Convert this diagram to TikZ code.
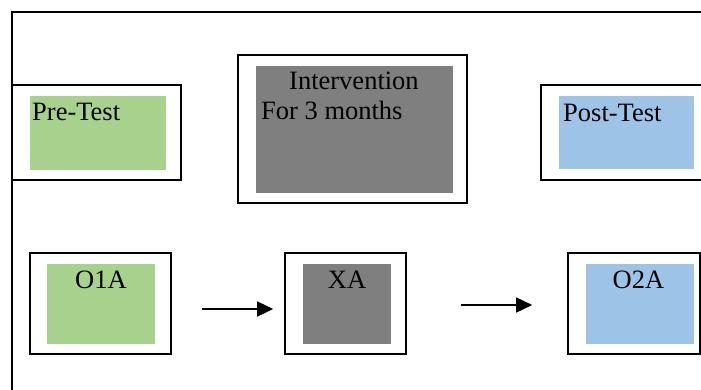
\documentclass[tikz,border=0pt]{standalone}
\usepackage{fontspec}
\setmainfont{Liberation Serif}
\usetikzlibrary{arrows.meta}
\definecolor{pgreen}{HTML}{A9D18E}
\definecolor{pgray}{HTML}{7F7F7F}
\definecolor{pblue}{HTML}{9DC3E6}
\begin{document}
\begin{tikzpicture}[x=1pt,y=-1pt,
  outerbox/.style={draw=black,line width=1.6pt,fill=white,inner sep=0pt},
  innerbox/.style={draw=none,inner sep=0pt},
  lbl/.style={inner sep=0pt,font=\fontsize{26.5}{30}\selectfont,text=black},
  arr/.style={line width=1.5pt,-{Triangle[length=16pt,width=15pt]}}]
\useasboundingbox (0,0) rectangle (701,389);
\clip (0,0) rectangle (701,389);
\fill[white] (0,0) rectangle (701,389);
% frame
\draw[line width=1.6pt] (12,400) -- (12,12) -- (720,12);
% top row
\node[outerbox,minimum width=169pt,minimum height=95pt] (preo) at (96.5,132.5) {};
\node[innerbox,fill=pgreen,minimum width=136pt,minimum height=74pt] (prei) at (98,133) {};
\node[lbl,anchor=base west] (pret) at (32,120) {Pre-Test};

\node[outerbox,minimum width=229pt,minimum height=148pt] (into) at (352.5,129) {};
\node[innerbox,fill=pgray,minimum width=197pt,minimum height=127pt] (inti) at (354.5,129.5) {};
\node[lbl,anchor=base west] (intt1) at (289,89) {Intervention};
\node[lbl,anchor=base west] (intt2) at (261,119) {For 3 months};

\node[outerbox,minimum width=169pt,minimum height=95pt] (posto) at (625.5,132.5) {};
\node[innerbox,fill=pblue,minimum width=135pt,minimum height=73pt] (posti) at (626.5,132.5) {};
\node[lbl,anchor=base west] (postt) at (563,121) {Post-Test};
% bottom row
\node[outerbox,minimum width=141pt,minimum height=101pt] (o1ao) at (100.5,303.5) {};
\node[innerbox,fill=pgreen,minimum width=108pt,minimum height=80pt] (o1ai) at (101,304) {};
\node[lbl,anchor=base] (o1at) at (101,288) {O1A};

\node[outerbox,minimum width=121pt,minimum height=101pt] (xao) at (345.5,303.5) {};
\node[innerbox,fill=pgray,minimum width=88pt,minimum height=80pt] (xai) at (347,304) {};
\node[lbl,anchor=base] (xat) at (347,288) {XA};

\node[outerbox,minimum width=132pt,minimum height=101pt] (o2ao) at (634,303.5) {};
\node[innerbox,fill=pblue,minimum width=108pt,minimum height=80pt] (o2ai) at (640,304) {};
\node[lbl,anchor=base] (o2at) at (638.5,288) {O2A};
% arrows
\draw[arr,shorten <=30pt,shorten >=11pt] ([yshift=-5.5pt]o1ao.east) -- ([yshift=-5.5pt]xao.west);
\draw[arr,shorten <=54pt,shorten >=35pt] ([yshift=-1.5pt]xao.east) -- ([yshift=-1.5pt]o2ao.west);
\end{tikzpicture}
\end{document}
